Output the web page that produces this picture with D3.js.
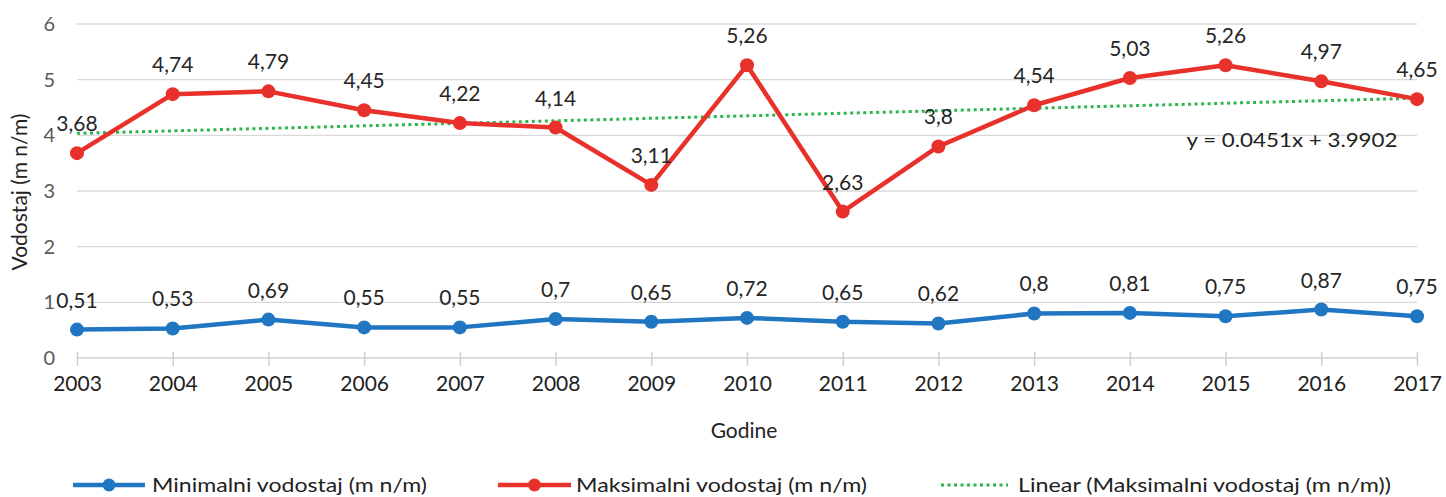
<!DOCTYPE html>
<html>
<head>
<meta charset="utf-8">
<script src="https://cdn.jsdelivr.net/npm/d3@7"></script>
<style>
  body { margin: 0; background: #fff; }
  svg text { font-family: Lato, "Open Sans", sans-serif; }
</style>
</head>
<body>
<svg id="chart" width="1446" height="497"></svg>
<script>
// data
const years = ['2003', '2004', '2005', '2006', '2007', '2008', '2009', '2010', '2011', '2012', '2013', '2014', '2015', '2016', '2017'];
const minValues = [0.51, 0.53, 0.69, 0.55, 0.55, 0.7, 0.65, 0.72, 0.65, 0.62, 0.8, 0.81, 0.75, 0.87, 0.75];
const maxValues = [3.68, 4.74, 4.79, 4.45, 4.22, 4.14, 3.11, 5.26, 2.63, 3.8, 4.54, 5.03, 5.26, 4.97, 4.65];
const yTicks = [0, 1, 2, 3, 4, 5, 6];
const trendSlope = 0.0451;
const trendIntercept = 3.9902;

const svg = d3.select('#chart');

const x = d3.scalePoint().domain(years).range([77, 1417]);
const y = d3.scaleLinear().domain([0, 6]).range([358, 24]);

const fmt = (v) => String(v).replace('.', ',');

// gridlines
svg.append('g')
    .selectAll('line')
    .data(yTicks.filter((t) => t > 0))
    .join('line')
    .attr('x1', 77)
    .attr('x2', 1417)
    .attr('y1', (d) => y(d))
    .attr('y2', (d) => y(d))
    .attr('stroke', '#d9d9d9')
    .attr('stroke-width', 1.4);

// x axis - ticks cross the line like excel
const xAxis = svg.append('g')
    .attr('transform', `translate(0,${y(0)})`)
    .call(d3.axisBottom(x).tickSize(8).tickPadding(10));
xAxis.select('.domain').attr('stroke', '#cfcfcf').attr('stroke-width', 1.5).attr('d', 'M77,0H1417');
xAxis.selectAll('.tick line').attr('stroke', '#cfcfcf').attr('stroke-width', 1.5).attr('y1', -6);
xAxis.selectAll('.tick text').attr('fill', '#222').attr('font-size', 21);

// y axis labels only
const yAxis = svg.append('g')
    .attr('transform', 'translate(55,0)')
    .call(d3.axisLeft(y).tickValues(yTicks).tickFormat(d3.format('d')).tickSize(0).tickPadding(0));
yAxis.select('.domain').remove();
yAxis.selectAll('.tick text').attr('fill', '#595959').attr('font-size', 20);

// axis titles
svg.append('text')
    .attr('x', 744)
    .attr('y', 438)
    .attr('text-anchor', 'middle')
    .attr('font-size', 21)
    .attr('fill', '#222')
    .text('Godine');

svg.append('text')
    .attr('transform', 'translate(27,192) rotate(-90)')
    .attr('text-anchor', 'middle')
    .attr('font-size', 21)
    .attr('fill', '#222')
    .text('Vodostaj (m n/m)');

// trendline (linear fit of max series, x = 1..n)
const trendData = years.map((yr, i) => ({ yr, v: trendSlope * (i + 1) + trendIntercept }));
svg.append('path')
    .datum(trendData)
    .attr('fill', 'none')
    .attr('stroke', '#2fb54f')
    .attr('stroke-width', 3)
    .attr('stroke-dasharray', '3,3.5')
    .attr('d', d3.line().x((d) => x(d.yr)).y((d) => y(d.v)));

svg.append('text')
    .attr('x', 1292)
    .attr('y', 147)
    .attr('text-anchor', 'middle')
    .attr('font-size', 20)
    .attr('fill', '#222')
    .attr('textLength', 211)
    .attr('lengthAdjust', 'spacingAndGlyphs')
    .text('y = 0.0451x + 3.9902');

// series
const series = [
    { name: 'Minimalni vodostaj (m n/m)', values: minValues, color: '#2176c2' },
    { name: 'Maksimalni vodostaj (m n/m)', values: maxValues, color: '#e8312b' },
];

series.forEach((s) => {
    const pts = years.map((yr, i) => ({ yr, v: s.values[i] }));
    const g = svg.append('g');
    g.append('path')
        .datum(pts)
        .attr('fill', 'none')
        .attr('stroke', s.color)
        .attr('stroke-width', 4.5)
        .attr('stroke-linejoin', 'round')
        .attr('d', d3.line().x((d) => x(d.yr)).y((d) => y(d.v)));
    g.selectAll('circle')
        .data(pts)
        .join('circle')
        .attr('cx', (d) => x(d.yr))
        .attr('cy', (d) => y(d.v))
        .attr('r', 7)
        .attr('fill', s.color);
    g.selectAll('text')
        .data(pts)
        .join('text')
        .attr('x', (d) => x(d.yr))
        .attr('y', (d) => y(d.v) - 22)
        .attr('text-anchor', 'middle')
        .attr('font-size', 21)
        .attr('fill', '#262626')
        .text((d) => fmt(d.v));
});

// legend
const legend = svg.append('g').attr('transform', 'translate(0,485)');
const legendItems = [
    { name: series[0].name, color: series[0].color, x0: 73, x1: 145, tx: 152, tw: 275, type: 'line' },
    { name: series[1].name, color: series[1].color, x0: 498, x1: 571, tx: 576, tw: 291, type: 'line' },
    { name: 'Linear (Maksimalni vodostaj (m n/m))', color: '#2fb54f', x0: 941, x1: 1008, tx: 1018, tw: 373, type: 'dots' },
];
legendItems.forEach((it) => {
    legend.append('line')
        .attr('x1', it.x0)
        .attr('x2', it.x1)
        .attr('stroke', it.color)
        .attr('stroke-width', it.type === 'line' ? 4.5 : 3)
        .attr('stroke-dasharray', it.type === 'line' ? null : '3,3.5');
    if (it.type === 'line') {
        legend.append('circle').attr('cx', (it.x0 + it.x1) / 2).attr('r', 6.5).attr('fill', it.color);
    }
    legend.append('text')
        .attr('x', it.tx)
        .attr('dy', '0.35em')
        .attr('font-size', 20)
        .attr('fill', '#222')
        .attr('textLength', it.tw)
        .attr('lengthAdjust', 'spacingAndGlyphs')
        .text(it.name);
});
</script>
</body>
</html>
